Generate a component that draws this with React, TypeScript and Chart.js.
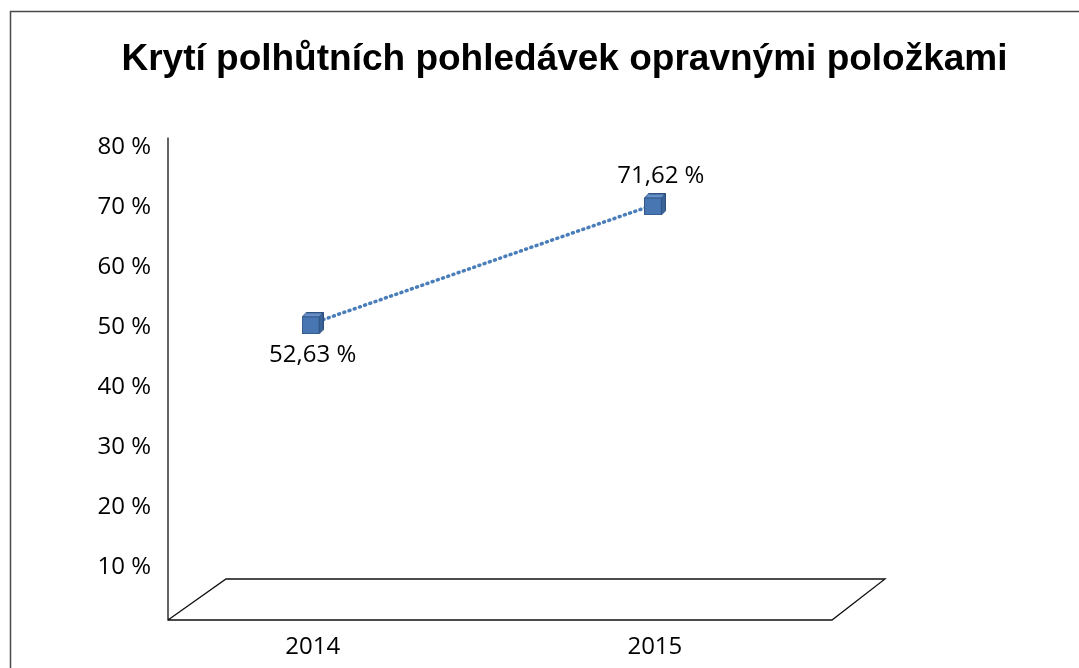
import React, { useEffect, useRef } from 'react';
import { Chart, registerables } from 'chart.js';

Chart.register(...registerables);

const TITLE = 'Krytí polhůtních pohledávek opravnými položkami';
const YEARS = ['2014', '2015'];
const COVERAGE = [52.63, 71.62];
const Y_TICKS = [10, 20, 30, 40, 50, 60, 70, 80];

const LABEL_FONT = '"Open Sans", "DejaVu Sans", sans-serif';

function makeCube(): HTMLCanvasElement {
  const c = document.createElement('canvas');
  c.width = 22;
  c.height = 22;
  const g = c.getContext('2d')!;
  g.lineWidth = 1;
  g.strokeStyle = '#2f5283';
  // front face
  g.fillStyle = '#4776b3';
  g.fillRect(0.5, 4.5, 17, 17);
  g.strokeRect(0.5, 4.5, 17, 17);
  // top face
  g.beginPath();
  g.moveTo(0.5, 4.5);
  g.lineTo(4.5, 0.5);
  g.lineTo(21.5, 0.5);
  g.lineTo(17.5, 4.5);
  g.closePath();
  g.fillStyle = '#6690c7';
  g.fill();
  g.stroke();
  // right face
  g.beginPath();
  g.moveTo(17.5, 4.5);
  g.lineTo(21.5, 0.5);
  g.lineTo(21.5, 17.5);
  g.lineTo(17.5, 21.5);
  g.closePath();
  g.fillStyle = '#3a6398';
  g.fill();
  g.stroke();
  return c;
}

const frame = {
  id: 'frame',
  beforeDraw(chart: any) {
    const { ctx, width, height } = chart;
    ctx.save();
    ctx.fillStyle = '#fff';
    ctx.fillRect(0, 0, width, height);
    ctx.strokeStyle = '#4a4a4a';
    ctx.lineWidth = 1.5;
    ctx.beginPath();
    ctx.moveTo(10.5, height);
    ctx.lineTo(10.5, 11.5);
    ctx.lineTo(width, 11.5);
    ctx.stroke();
    ctx.restore();
  },
};

const floor = {
  id: 'floor',
  beforeDatasetsDraw(chart: any) {
    const { ctx, chartArea } = chart;
    const l = chartArea.left;
    const fy = chartArea.bottom - 7;
    ctx.save();
    ctx.strokeStyle = '#111';
    ctx.lineWidth = 1.3;
    ctx.beginPath();
    ctx.moveTo(l, chartArea.top - 10);
    ctx.lineTo(l, fy);
    ctx.lineTo(l + 664, fy);
    ctx.lineTo(l + 717, fy - 41);
    ctx.lineTo(l + 58, fy - 41);
    ctx.lineTo(l, fy);
    ctx.stroke();
    ctx.restore();
  },
};

const valueLabels = {
  id: 'valueLabels',
  afterDatasetsDraw(chart: any) {
    const { ctx } = chart;
    const meta = chart.getDatasetMeta(0);
    const data = chart.data.datasets[0].data as any[];
    ctx.save();
    ctx.font = `24px ${LABEL_FONT}`;
    ctx.fillStyle = '#000';
    ctx.textAlign = 'center';
    ctx.textBaseline = 'middle';
    meta.data.forEach((pt: any, i: number) => {
      const v = data[i].y as number;
      const text = v.toFixed(2).replace('.', ',') + ' %';
      const below = i === 0;
      ctx.fillText(text, pt.x + (below ? 0 : 6), pt.y + (below ? 32 : -28));
    });
    ctx.restore();
  },
};

export default function App() {
  const ref = useRef<HTMLCanvasElement>(null);

  useEffect(() => {
    if (!ref.current) return;
    const cube = makeCube();
    const chart = new Chart(ref.current, {
      type: 'line',
      data: {
        datasets: [
          {
            data: COVERAGE.map((y, i) => ({ x: i, y })),
            yAxisID: 'yData',
            borderColor: '#4a7ebb',
            borderWidth: 3.5,
            borderDash: [1, 4.5],
            borderCapStyle: 'round',
            pointStyle: cube as any,
            pointRadius: 11,
            pointHoverRadius: 11,
            tension: 0,
            clip: false as any,
          },
        ],
      },
      options: {
        responsive: false,
        animation: false,
        events: [],
        layout: { padding: { left: 50, right: 0, top: 0, bottom: 0 } },
        plugins: {
          legend: { display: false },
          tooltip: { enabled: false },
          title: {
            display: true,
            text: TITLE,
            color: '#000',
            font: { family: '"Liberation Sans", Arial, sans-serif', size: 37, weight: 'bold' },
            padding: { top: 38, bottom: 65 },
          },
        },
        scales: {
          x: {
            type: 'linear',
            min: -0.4227,
            max: 2.197,
            grid: { display: false, drawTicks: false },
            border: { display: false },
            afterBuildTicks: (s: any) => {
              s.ticks = YEARS.map((_, i) => ({ value: i }));
            },
            afterFit: (s: any) => {
              s.height = 41;
            },
            ticks: {
              padding: 6,
              color: '#000',
              font: { family: LABEL_FONT, size: 24 },
              callback: (v: any) => YEARS[v] ?? '',
              maxRotation: 0,
            },
          },
          y: {
            type: 'linear',
            min: 0,
            max: 80,
            grid: { display: false, drawTicks: false },
            border: { display: false },
            afterBuildTicks: (s: any) => {
              s.ticks = Y_TICKS.map((v) => ({ value: v }));
            },
            afterFit: (s: any) => {
              s.width = 118;
            },
            ticks: {
              padding: 17,
              color: '#000',
              font: { family: LABEL_FONT, size: 24 },
              callback: (v: any) => `${v} %`,
            },
          },
          yData: {
            type: 'linear',
            display: false,
            min: 4.12,
            max: 80.72,
          },
        },
      },
      plugins: [frame, floor, valueLabels],
    });
    return () => chart.destroy();
  }, []);

  return (
    <div style={{ position: 'fixed', left: 0, top: 0, width: 1079, height: 668, background: '#fff' }}>
      <canvas ref={ref} width={1079} height={668} style={{ display: 'block', width: 1079, height: 668 }} />
    </div>
  );
}
